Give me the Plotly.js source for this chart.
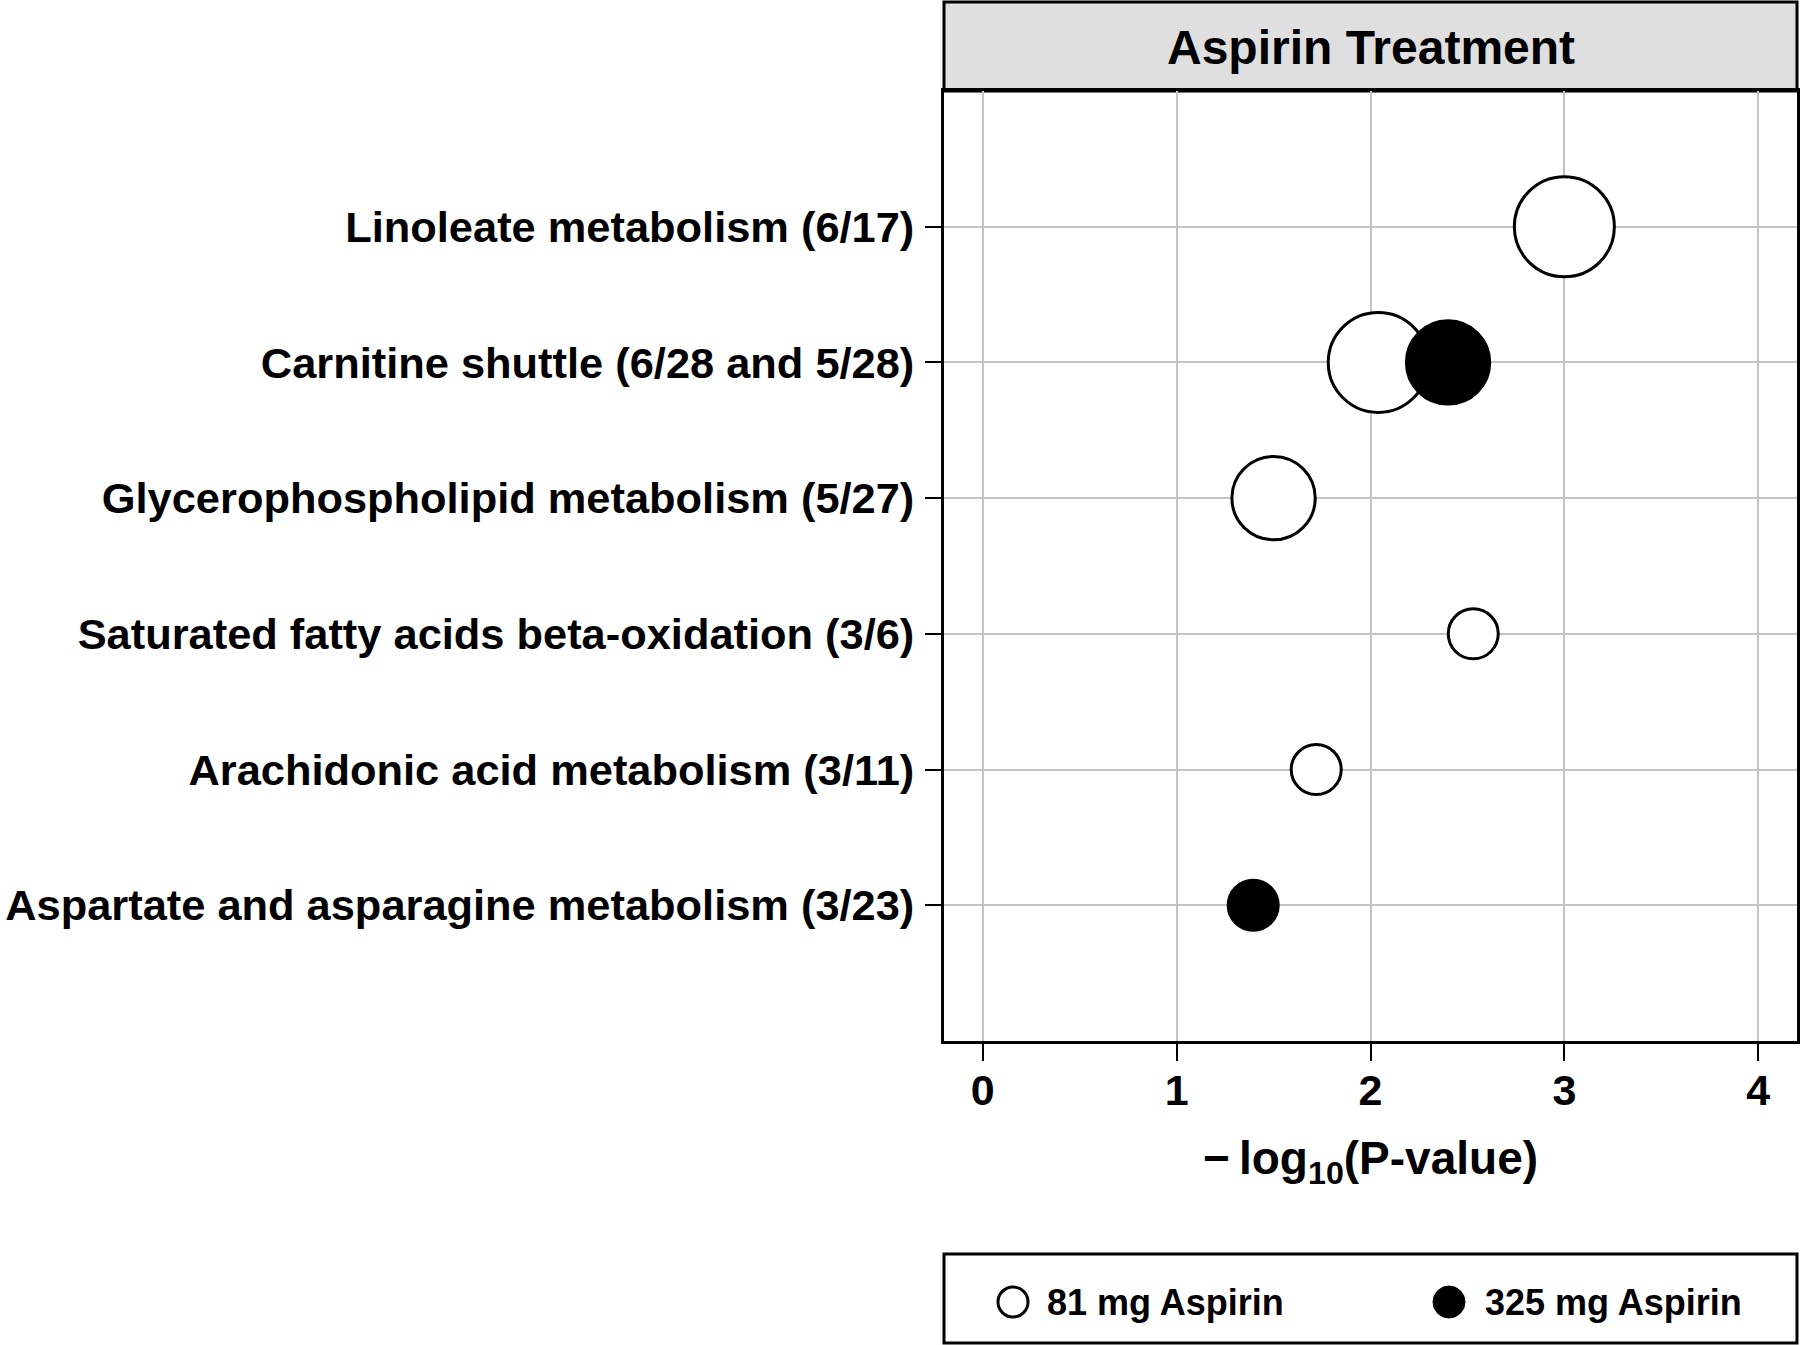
<!DOCTYPE html>
<html>
<head>
<meta charset="utf-8">
<script src="https://cdn.plot.ly/plotly-3.0.1.min.js"></script>
<style>
  html, body { margin: 0; padding: 0; background: #ffffff; }
  #chart { width: 1800px; height: 1345px; }
</style>
</head>
<body>
<div id="chart"></div>
<script>
// pathways, top to bottom
const pathways = [
    'Linoleate metabolism (6/17)',
    'Carnitine shuttle (6/28 and 5/28)',
    'Glycerophospholipid metabolism (5/27)',
    'Saturated fatty acids beta-oxidation (3/6)',
    'Arachidonic acid metabolism (3/11)',
    'Aspartate and asparagine metabolism (3/23)'
];

// 81 mg Aspirin
const low_path = [pathways[0], pathways[1], pathways[2], pathways[3], pathways[4]];
const low_logp = [3.00, 2.04, 1.50, 2.53, 1.72];
const low_hits = [6, 6, 5, 3, 3];

// 325 mg Aspirin
const high_path = [pathways[1], pathways[5]];
const high_logp = [2.40, 1.395];
const high_hits = [5, 3];

const xticks = [0, 1, 2, 3, 4];

const FONT = 'Liberation Sans, Arial, sans-serif';

var trace1 = {
    name: '81 mg Aspirin',
    x: low_logp,
    y: low_path,
    type: 'scatter',
    mode: 'markers',
    cliponaxis: false,
    marker: {
        color: '#ffffff',
        opacity: 1,
        size: low_hits,
        sizemode: 'diameter',
        sizeref: 0.06,
        line: {color: '#000000', width: 3}
    }
};

var trace2 = {
    name: '325 mg Aspirin',
    x: high_logp,
    y: high_path,
    type: 'scatter',
    mode: 'markers',
    cliponaxis: false,
    marker: {
        color: '#000000',
        opacity: 1,
        size: high_hits,
        sizemode: 'diameter',
        sizeref: 0.06,
        line: {color: '#000000', width: 3}
    }
};

var data = [trace1, trace2];

// plot area in pixels: x 944..1797, y 91..1041
const plotH = 950;
const plotW = 853;
function py(px) { return (1041 - px) / plotH; }
function pxx(px) { return (px - 944) / plotW; }

var layout = {
    width: 1800,
    height: 1345,
    showlegend: false,
    margin: {l: 944, r: 3, t: 91, b: 304, pad: 0},
    paper_bgcolor: '#ffffff',
    plot_bgcolor: '#ffffff',
    font: {family: FONT, color: '#000000', weight: 700},
    xaxis: {
        range: [-0.2, 4.2],
        tickvals: xticks,
        ticktext: xticks.map(String),
        ticks: 'outside',
        ticklen: 17,
        tickwidth: 2,
        tickcolor: '#000000',
        ticklabelstandoff: -8,
        tickfont: {family: FONT, size: 43, weight: 700},
        showgrid: true,
        gridcolor: '#c4c4c4',
        gridwidth: 2,
        zeroline: false,
        showline: true,
        linecolor: '#000000',
        linewidth: 3,
        mirror: true,
        title: {
            text: '\u2212\u2009log<sub>10</sub>(P-value)',
            font: {family: FONT, size: 46, weight: 700},
            standoff: 30
        }
    },
    yaxis: {
        type: 'category',
        categoryorder: 'array',
        categoryarray: pathways,
        range: [6, -1],
        ticks: 'outside',
        ticklen: 16,
        tickwidth: 2,
        tickcolor: '#000000',
        ticklabelstandoff: 2,
        tickfont: {family: FONT, size: 43.4, weight: 700},
        showgrid: true,
        gridcolor: '#c4c4c4',
        gridwidth: 2,
        zeroline: false,
        showline: true,
        linecolor: '#000000',
        linewidth: 3,
        mirror: true
    },
    shapes: [
        // header strip
        {type: 'rect', xref: 'paper', yref: 'paper', x0: 0, x1: 1, y0: 1, y1: 1 + 89 / plotH,
         fillcolor: '#dfdfdf', line: {color: '#000000', width: 3}, layer: 'below'},
        // legend box
        {type: 'rect', xref: 'paper', yref: 'paper', x0: 0, x1: 1, y0: py(1254), y1: py(1343),
         fillcolor: 'rgba(0,0,0,0)', line: {color: '#000000', width: 3}},
        // legend symbols
        {type: 'circle', xref: 'paper', yref: 'paper', xsizemode: 'pixel', ysizemode: 'pixel',
         xanchor: pxx(1013), yanchor: py(1302), x0: -15, x1: 15, y0: -15, y1: 15,
         fillcolor: '#ffffff', line: {color: '#000000', width: 3}},
        {type: 'circle', xref: 'paper', yref: 'paper', xsizemode: 'pixel', ysizemode: 'pixel',
         xanchor: pxx(1449), yanchor: py(1302), x0: -16, x1: 16, y0: -16, y1: 16,
         fillcolor: '#000000', line: {color: '#000000', width: 1}}
    ],
    annotations: [
        {text: 'Aspirin Treatment', xref: 'paper', yref: 'paper', x: 0.5, y: 1 + 43 / plotH,
         xanchor: 'center', yanchor: 'middle', showarrow: false,
         font: {family: FONT, size: 48, weight: 700}},
        {text: trace1.name, xref: 'paper', yref: 'paper', x: pxx(1045), y: py(1302),
         xanchor: 'left', yanchor: 'middle', showarrow: false,
         font: {family: FONT, size: 36, weight: 700}},
        {text: trace2.name, xref: 'paper', yref: 'paper', x: pxx(1483), y: py(1302),
         xanchor: 'left', yanchor: 'middle', showarrow: false,
         font: {family: FONT, size: 36, weight: 700}}
    ]
};

Plotly.newPlot('chart', data, layout, {displayModeBar: false, staticPlot: true});
</script>
</body>
</html>
